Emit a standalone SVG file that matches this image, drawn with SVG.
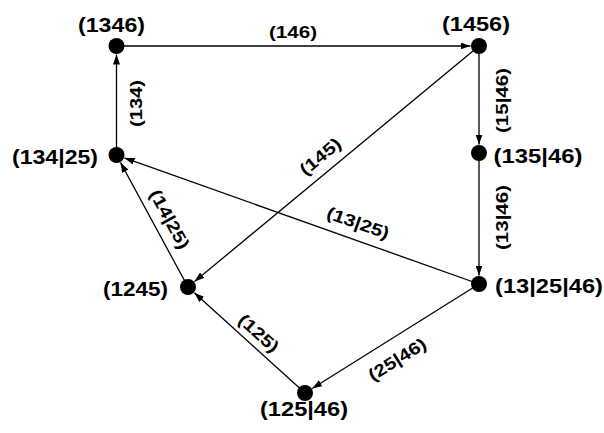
<svg xmlns="http://www.w3.org/2000/svg" width="604" height="433" viewBox="0 0 604 433">
<style>
.nd{fill:#000}
.nl{font-family:"Liberation Sans",Arial,sans-serif;font-weight:bold;font-size:19.5px;fill:#000;text-anchor:middle}
.el{font-family:"Liberation Sans",Arial,sans-serif;font-weight:bold;font-size:17px;fill:#000;text-anchor:middle}
.ed{stroke:#000;stroke-width:1.3;fill:none;marker-end:url(#ah)}
</style>
<defs>
<marker id="ah" viewBox="0 0 10 7" refX="10" refY="3.5" markerWidth="10" markerHeight="7" markerUnits="userSpaceOnUse" orient="auto">
<path d="M0,0 L10,3.5 L0,7 z" fill="#000"/>
</marker>
</defs>
<rect width="604" height="433" fill="#fff"/>
<g id="connectors">
<line class="ed" x1="116.5" y1="46" x2="470.5" y2="46"/>
<line class="ed" x1="116.5" y1="155" x2="116.5" y2="54.5"/>
<line class="ed" x1="479" y1="46" x2="479" y2="144.5"/>
<line class="ed" x1="479" y1="153" x2="479" y2="275.5"/>
<line class="ed" x1="479" y1="46" x2="194.5" y2="281.6"/>
<line class="ed" x1="479" y1="284" x2="124.5" y2="157.9"/>
<line class="ed" x1="188" y1="287" x2="120.5" y2="162.5"/>
<line class="ed" x1="479" y1="284" x2="312.2" y2="388.5"/>
<line class="ed" x1="305" y1="393" x2="194.3" y2="292.7"/>
<text class="el" x="293" y="37.5" textLength="48" lengthAdjust="spacingAndGlyphs">(146)</text>
<text class="el" transform="translate(141.5,103.5) rotate(-90)" textLength="47" lengthAdjust="spacingAndGlyphs">(134)</text>
<text class="el" transform="translate(507.5,100.5) rotate(-90)" textLength="65" lengthAdjust="spacingAndGlyphs">(15|46)</text>
<text class="el" transform="translate(507.5,217.5) rotate(-90)" textLength="65" lengthAdjust="spacingAndGlyphs">(13|46)</text>
<text class="el" transform="translate(324,161) rotate(-39.6)" textLength="48" lengthAdjust="spacingAndGlyphs">(145)</text>
<text class="el" transform="translate(164.5,222) rotate(61.7)" textLength="65" lengthAdjust="spacingAndGlyphs">(14|25)</text>
<text class="el" transform="translate(356,228.5) rotate(19.6)" textLength="65" lengthAdjust="spacingAndGlyphs">(13|25)</text>
<text class="el" transform="translate(254.8,337.6) rotate(42.2)" textLength="48" lengthAdjust="spacingAndGlyphs">(125)</text>
<text class="el" transform="translate(400.3,364.3) rotate(-32)" textLength="65" lengthAdjust="spacingAndGlyphs">(25|46)</text>
</g>
<g id="n1346"><circle class="nd" cx="116.5" cy="46" r="8"/><text class="nl" x="111.5" y="31.5" textLength="67" lengthAdjust="spacingAndGlyphs">(1346)</text></g>
<g id="n1456"><circle class="nd" cx="479" cy="46" r="8"/><text class="nl" x="476" y="30.5" textLength="68" lengthAdjust="spacingAndGlyphs">(1456)</text></g>
<g id="n135_46"><circle class="nd" cx="479" cy="153" r="8"/><text class="nl" x="538" y="162.5" textLength="89" lengthAdjust="spacingAndGlyphs">(135|46)</text></g>
<g id="n134_25"><circle class="nd" cx="116.5" cy="155" r="8"/><text class="nl" x="55" y="163.5" textLength="86" lengthAdjust="spacingAndGlyphs">(134|25)</text></g>
<g id="n1245"><circle class="nd" cx="188" cy="287" r="8"/><text class="nl" x="135.5" y="296" textLength="65" lengthAdjust="spacingAndGlyphs">(1245)</text></g>
<g id="n13_25_46"><circle class="nd" cx="479" cy="284" r="8"/><text class="nl" x="549" y="293" textLength="108" lengthAdjust="spacingAndGlyphs">(13|25|46)</text></g>
<g id="n125_46"><circle class="nd" cx="305" cy="393" r="8"/><text class="nl" x="304" y="415.5" textLength="88" lengthAdjust="spacingAndGlyphs">(125|46)</text></g>
</svg>
